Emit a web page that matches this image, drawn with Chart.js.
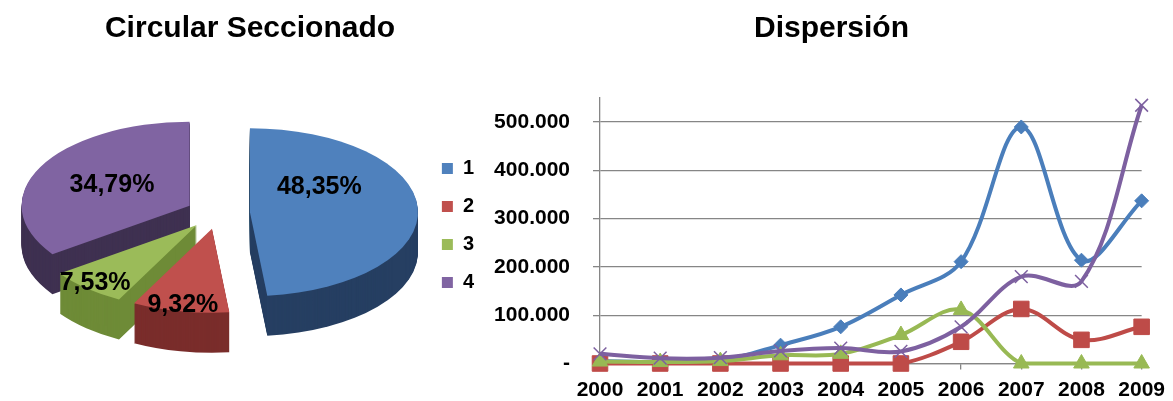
<!DOCTYPE html>
<html>
<head>
<meta charset="utf-8">
<script src="https://cdn.jsdelivr.net/npm/chart.js@4/dist/chart.umd.min.js"></script>
<style>
  html, body { margin: 0; padding: 0; background: #fff; overflow: hidden; }
  .box { position: absolute; top: 0; height: 401px; }
  #pieBox { left: 0; width: 494px; }
  #lineBox { left: 480px; width: 693px; }
</style>
</head>
<body>
<div class="box" id="pieBox"><canvas id="pie"></canvas></div>
<div class="box" id="lineBox"><canvas id="line"></canvas></div>
<script>
// --- datos ---
const pieLabels = ['1', '2', '3', '4'];
const piePercent = [48.35, 9.32, 7.53, 34.79];

const years = ['2000', '2001', '2002', '2003', '2004', '2005', '2006', '2007', '2008', '2009'];
const serie1 = [5000, 3000, 6000, 38000, 76000, 142000, 211000, 490000, 214000, 337000];
const serie2 = [0, 0, 0, 0, 0, 0, 45000, 113000, 49000, 76000];
const serie3 = [4000, 3000, 5000, 17000, 20000, 59000, 111000, 0, 0, 0];
const serie4 = [20000, 11000, 12000, 26000, 32000, 25000, 76000, 180000, 170000, 535000];

const yTicks = [0, 100000, 200000, 300000, 400000, 500000];

// colores tipo Office 2007
const topColors = ['#4F81BD', '#C0504D', '#9BBB59', '#8064A2'];
const sideColors = ['#263F62', '#7A2D2B', '#6E8B37', '#3F3151'];
const lineColors = ['#4A7EBB', '#BE4B48', '#98B954', '#7D60A0'];

const FONT = 'Liberation Sans, Arial, sans-serif';

// vista 3D del circular (elipse + grosor)
const pieView = { cx: 218, cy: 213, rx: 168, ry: 84, depth: 40, explode: 32 };
// donde va cada etiqueta: fraccion del radio y giro (grados) respecto al centro del sector
const labelFrac = [0.51, 0.92, 0.92, 0.52];
const labelTurn = [-33, 0, 0, 0];

const pie3d = {
  id: 'pie3d',
  beforeDatasetsDraw(chart) {
    const ctx = chart.ctx;
    const arcs = chart.getDatasetMeta(0).data;
    const r = arcs[0].outerRadius;
    const sx = pieView.rx / r, sy = pieView.ry / r;
    const k = pieView.ry / pieView.rx;

    const face = (arc, color, dy) => {
      const mid = (arc.startAngle + arc.endAngle) / 2;
      const piece = Object.create(arc);
      piece.options = Object.assign({}, arc.options, { backgroundColor: color, borderWidth: 0, offset: 0 });
      ctx.save();
      ctx.translate(pieView.cx + Math.cos(mid) * pieView.explode,
                    pieView.cy + dy + Math.sin(mid) * pieView.explode * k);
      ctx.scale(sx, sy);
      ctx.translate(-arc.x, -arc.y);
      piece.draw(ctx);
      ctx.restore();
    };

    for (let d = pieView.depth; d > 0; d--) {
      arcs.forEach((a, i) => face(a, sideColors[i], d));
    }
    arcs.forEach((a, i) => face(a, topColors[i], 0));

    // etiquetas de porcentaje
    ctx.save();
    ctx.font = 'bold 25px ' + FONT;
    ctx.fillStyle = '#000';
    ctx.textAlign = 'center';
    ctx.textBaseline = 'middle';
    arcs.forEach((a, i) => {
      const mid = (a.startAngle + a.endAngle) / 2;
      const ang = mid + labelTurn[i] * Math.PI / 180;
      const x = pieView.cx + Math.cos(mid) * pieView.explode + Math.cos(ang) * labelFrac[i] * pieView.rx;
      const y = pieView.cy + Math.sin(mid) * pieView.explode * k + Math.sin(ang) * labelFrac[i] * pieView.ry;
      ctx.fillText(piePercent[i].toFixed(2).replace('.', ',') + '%', x, y);
    });
    ctx.restore();
    return false;
  }
};

new Chart(document.getElementById('pie'), {
  type: 'pie',
  data: {
    labels: pieLabels,
    datasets: [{ data: piePercent, backgroundColor: topColors, borderWidth: 0 }]
  },
  options: {
    responsive: true,
    maintainAspectRatio: false,
    animation: false,
    radius: 100,
    events: [],
    layout: { padding: { left: 16, right: 10 } },
    plugins: {
      title: {
        display: true,
        text: 'Circular Seccionado',
        color: '#000',
        font: { family: FONT, size: 30, weight: 'bold' },
        padding: { top: 11, bottom: 3 }
      },
      legend: {
        position: 'right',
        fullSize: false,
        labels: {
          color: '#000',
          boxWidth: 11,
          boxHeight: 11,
          padding: 18,
          font: { family: FONT, size: 20, weight: 'bold' }
        }
      },
      tooltip: { enabled: false }
    }
  },
  plugins: [pie3d]
});

const fmt = v => v === 0 ? '-' : String(v).replace(/\B(?=(\d{3})+(?!\d))/g, '.');

const mk = (label, data, i, style, radius, order) => ({
  label, data,
  borderColor: lineColors[i],
  backgroundColor: lineColors[i],
  pointBackgroundColor: style === 'crossRot' ? 'transparent' : lineColors[i],
  pointBorderColor: lineColors[i],
  pointBorderWidth: style === 'crossRot' ? 1.5 : 1,
  pointStyle: style,
  pointRadius: radius,
  borderWidth: 4,
  tension: 0.35,
  clip: false,
  order
});

new Chart(document.getElementById('line'), {
  type: 'line',
  data: {
    labels: years,
    datasets: [
      mk('1', serie1, 0, 'rectRot', 7, 4),
      mk('2', serie2, 1, 'rect', 11, 3),
      mk('3', serie3, 2, 'triangle', 9, 2),
      mk('4', serie4, 3, 'crossRot', 9, 1)
    ]
  },
  options: {
    responsive: true,
    maintainAspectRatio: false,
    animation: false,
    events: [],
    layout: { padding: { left: 10, right: 0, top: 0, bottom: 0 } },
    plugins: {
      title: {
        display: true,
        text: 'Dispersión',
        color: '#000',
        font: { family: FONT, size: 30, weight: 'bold' },
        padding: { top: 11, bottom: 51 }
      },
      legend: { display: false },
      tooltip: { enabled: false }
    },
    scales: {
      x: {
        offset: false,
        afterFit: s => { s.height = 37.5; },
        grid: { drawOnChartArea: false, color: '#868686', tickLength: 6, lineWidth: 1.3 },
        border: { display: true, color: '#868686', width: 1.3 },
        ticks: {
          color: '#000',
          padding: 8,
          maxRotation: 0,
          font: { family: FONT, size: 21, weight: 'bold' }
        }
      },
      y: {
        min: 0,
        max: 550000,
        afterBuildTicks: s => { s.ticks = yTicks.map(v => ({ value: v })); },
        afterFit: s => { s.width = 110; },
        grid: { color: '#868686', tickLength: 7, lineWidth: 1.3 },
        border: { display: true, color: '#868686', width: 1.3 },
        ticks: {
          color: '#000',
          padding: 23,
          font: { family: FONT, size: 21, weight: 'bold' },
          callback: v => fmt(v)
        }
      }
    }
  }
});
</script>
</body>
</html>
